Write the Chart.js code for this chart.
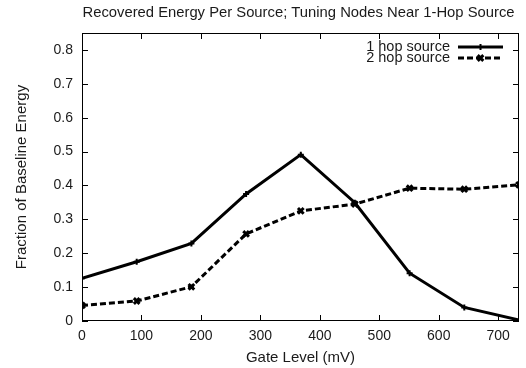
<!DOCTYPE html>
<html>
<head>
<meta charset="utf-8">
<script src="https://cdn.jsdelivr.net/npm/chart.js@4/dist/chart.umd.min.js"></script>
<style>
  html, body { margin: 0; padding: 0; background: #fff; }
  #wrap { width: 526px; height: 368px; }
</style>
</head>
<body>
<div id="wrap"><canvas id="gate_chart"></canvas></div>
<script>
const gateLevels = [0, 92, 184, 276, 368, 459, 551, 643, 735];
const oneHop = [0.126, 0.175, 0.229, 0.375, 0.491, 0.349, 0.141, 0.040, 0.003];
const twoHop = [0.046, 0.059, 0.101, 0.257, 0.325, 0.345, 0.392, 0.389, 0.402];
const seriesNames = ['1 hop source', '2 hop source'];
const chartTitle = 'Recovered Energy Per Source; Tuning Nodes Near 1-Hop Source';
const xTickStep = 100;
const yTickStep = 0.1;

const fontFamily = '"Liberation Sans", Arial, Helvetica, sans-serif';
const ink = '#1a1a1a';

// gnuplot style frame: box with inward ticks on all four sides
const framePlugin = {
  id: 'frame',
  afterDatasetsDraw(chart) {
    const { ctx, chartArea: a, scales } = chart;
    const len = 6;
    ctx.save();
    ctx.strokeStyle = '#000';
    ctx.lineWidth = 1;
    ctx.strokeRect(a.left + 0.5, a.top + 0.5, a.right - a.left - 1, a.bottom - a.top - 1);
    ctx.beginPath();
    scales.x.ticks.forEach(t => {
      const px = Math.round(scales.x.getPixelForValue(t.value)) + 0.5;
      ctx.moveTo(px, a.bottom); ctx.lineTo(px, a.bottom - len);
      ctx.moveTo(px, a.top); ctx.lineTo(px, a.top + len);
    });
    scales.y.ticks.forEach(t => {
      const py = Math.round(scales.y.getPixelForValue(t.value)) + 0.5;
      ctx.moveTo(a.left, py); ctx.lineTo(a.left + len, py);
      ctx.moveTo(a.right, py); ctx.lineTo(a.right - len, py);
    });
    ctx.stroke();
    ctx.restore();
  }
};

// title centred over the plot box, key in the top right
const keyPlugin = {
  id: 'key',
  afterDraw(chart) {
    const { ctx, chartArea: a } = chart;
    ctx.save();
    ctx.fillStyle = ink;
    ctx.font = '14.8px ' + fontFamily;
    ctx.textAlign = 'center';
    ctx.textBaseline = 'middle';
    ctx.fillText(chartTitle, (a.left + a.right) / 2 - 2, 13);

    const textRight = 450, x0 = 458, x1 = 503;
    ctx.font = '14.5px ' + fontFamily;
    ctx.textAlign = 'right';
    chart.data.datasets.forEach((ds, i) => {
      const y = a.top + 14 + i * 11;
      ctx.fillStyle = ink;
      ctx.fillText(ds.label, textRight, y);
      ctx.strokeStyle = ds.borderColor;
      ctx.lineWidth = ds.borderWidth;
      ctx.setLineDash(ds.borderDash || []);
      ctx.beginPath();
      ctx.moveTo(x0, y); ctx.lineTo(x1, y);
      ctx.stroke();
      ctx.setLineDash([]);
      ctx.lineWidth = ds.pointBorderWidth;
      Chart.helpers.drawPoint(ctx, {
        pointStyle: ds.pointStyle, radius: ds.pointRadius, rotation: 0, borderWidth: ds.pointBorderWidth
      }, (x0 + x1) / 2, y);
    });
    ctx.restore();
  }
};

const ctx = document.getElementById('gate_chart').getContext('2d');

new Chart(ctx, {
  type: 'line',
  data: {
    datasets: [{
      label: seriesNames[0],
      data: gateLevels.map((g, i) => ({ x: g, y: oneHop[i] })),
      borderColor: '#000',
      backgroundColor: '#000',
      borderWidth: 3,
      pointStyle: 'cross',
      pointRadius: 3,
      pointBorderWidth: 2,
      tension: 0
    }, {
      label: seriesNames[1],
      data: gateLevels.map((g, i) => ({ x: g, y: twoHop[i] })),
      borderColor: '#000',
      backgroundColor: '#000',
      borderWidth: 3,
      borderDash: [6, 3],
      pointStyle: 'crossRot',
      pointRadius: 4,
      pointBorderWidth: 3,
      tension: 0
    }]
  },
  options: {
    responsive: true,
    maintainAspectRatio: false,
    animation: false,
    layout: { padding: { left: 0, right: 7, top: 33, bottom: 0 } },
    plugins: {
      legend: { display: false },
      tooltip: { enabled: false },
      title: { display: false }
    },
    scales: {
      x: {
        type: 'linear',
        min: 0,
        max: 735,
        grid: { display: false, drawTicks: false },
        border: { display: false },
        ticks: {
          stepSize: xTickStep,
          includeBounds: false,
          color: ink,
          padding: 7,
          maxRotation: 0,
          font: { family: fontFamily, size: 14 }
        },
        title: {
          display: true,
          text: 'Gate Level (mV)',
          color: ink,
          font: { family: fontFamily, size: 15 },
          padding: { top: 0, bottom: 1.5 }
        },
        afterFit: s => { s.height = 47; }
      },
      y: {
        min: 0,
        max: 0.85,
        grid: { display: false, drawTicks: false },
        border: { display: false },
        ticks: {
          stepSize: yTickStep,
          includeBounds: false,
          color: ink,
          padding: 9,
          font: { family: fontFamily, size: 14 },
          callback: v => v === 0 ? '0' : v.toFixed(1)
        },
        title: {
          display: true,
          text: 'Fraction of Baseline Energy',
          color: ink,
          font: { family: fontFamily, size: 15 },
          padding: { top: 13, bottom: 0 }
        },
        afterFit: s => { s.width = 82; }
      }
    }
  },
  plugins: [framePlugin, keyPlugin]
});
</script>
</body>
</html>
